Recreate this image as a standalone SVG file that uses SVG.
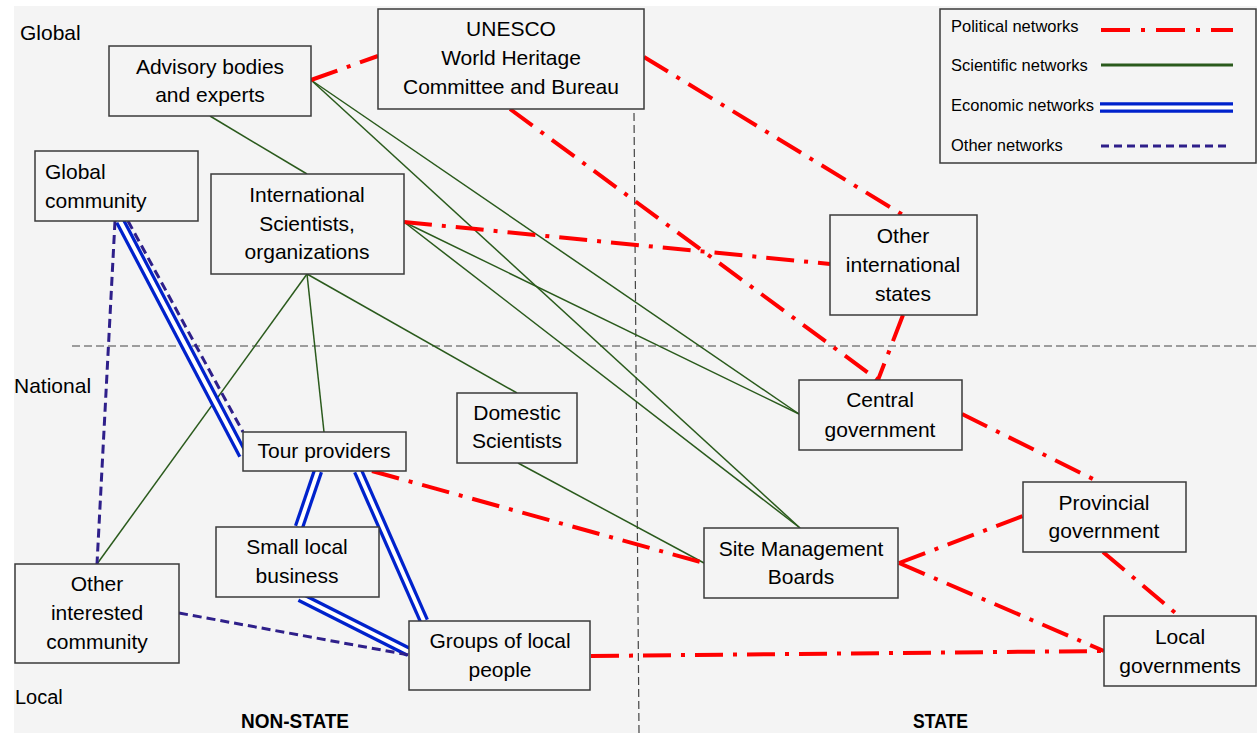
<svg xmlns="http://www.w3.org/2000/svg" width="1257" height="733" viewBox="0 0 1257 733">
<style>
.bg{fill:#f4f4f4}
.box{fill:#f4f4f4;stroke:#3a3a3a;stroke-width:1.5}
.t{font-family:"Liberation Sans",Arial,sans-serif;font-size:21px;fill:#000;text-anchor:middle}
.tl{font-family:"Liberation Sans",Arial,sans-serif;font-size:21px;fill:#000}
.lg{font-family:"Liberation Sans",Arial,sans-serif;font-size:16.5px;fill:#000}
.ax{font-family:"Liberation Sans",Arial,sans-serif;font-size:20px;font-weight:bold;fill:#000}
.pol{stroke:#ff0000;stroke-width:4;stroke-dasharray:28 10 4 10;fill:none}
.sci{stroke:#2a5a1c;stroke-width:1.5;fill:none}
.eco{stroke:#0022cc;stroke-width:10.5;fill:none}
.ecoi{stroke:#ffffff;stroke-width:4;fill:none}
.oth{stroke:#2e1f8a;stroke-width:3;stroke-dasharray:9 5;fill:none}
.grid{stroke:#444;stroke-width:1.2;stroke-dasharray:8 4;fill:none}
</style>
<rect x="14" y="6" width="1243" height="727" class="bg"/>
<g id="grid">
<line class="grid" x1="72" y1="346" x2="1257" y2="346"/>
<line class="grid" x1="634" y1="113" x2="639" y2="733"/>
</g>
<g id="axis-labels">
<text class="tl" x="20" y="40">Global</text>
<text class="tl" x="14" y="393">National</text>
<text class="tl" x="15" y="704" style="font-size:20px">Local</text>
<text class="ax" x="241" y="728" textLength="108" lengthAdjust="spacingAndGlyphs">NON-STATE</text>
<text class="ax" x="913" y="728" textLength="55" lengthAdjust="spacingAndGlyphs">STATE</text>
</g>
<g id="connectors">
<!-- scientific -->
<line class="sci" x1="210" y1="116" x2="307" y2="174"/>
<line class="sci" x1="311" y1="80" x2="799" y2="414"/>
<line class="sci" x1="311" y1="80" x2="800" y2="528"/>
<line class="sci" x1="404" y1="222" x2="799" y2="414"/>
<line class="sci" x1="404" y1="222" x2="800" y2="528"/>
<line class="sci" x1="307" y1="274" x2="324" y2="432"/>
<line class="sci" x1="307" y1="274" x2="97" y2="564"/>
<line class="sci" x1="307" y1="274" x2="517" y2="393"/>
<line class="sci" x1="518" y1="463" x2="704" y2="563"/>
<!-- economic -->
<line class="eco" x1="120" y1="221" x2="243" y2="455"/>
<line class="ecoi" x1="120" y1="221" x2="243" y2="455"/>
<line class="eco" x1="318" y1="471" x2="299" y2="527"/>
<line class="ecoi" x1="318" y1="471" x2="299" y2="527"/>
<line class="eco" x1="358" y1="471" x2="424" y2="621"/>
<line class="ecoi" x1="358" y1="471" x2="424" y2="621"/>
<line class="eco" x1="300" y1="597" x2="409" y2="652"/>
<line class="ecoi" x1="300" y1="597" x2="409" y2="652"/>
<!-- other -->
<line class="oth" x1="128" y1="221" x2="243" y2="432"/>
<line class="oth" x1="115" y1="221" x2="97" y2="564"/>
<line class="oth" x1="179" y1="613" x2="409" y2="655"/>
<!-- political -->
<line class="pol" x1="311" y1="80" x2="378" y2="56"/>
<line class="pol" x1="644" y1="57" x2="903" y2="215"/>
<line class="pol" x1="510" y1="109" x2="878" y2="380"/>
<line class="pol" x1="404" y1="222" x2="830" y2="264"/>
<line class="pol" x1="903" y1="315" x2="878" y2="380"/>
<line class="pol" x1="962" y1="414" x2="1099" y2="482"/>
<line class="pol" x1="372" y1="471" x2="704" y2="563"/>
<line class="pol" x1="899" y1="563" x2="1023" y2="516"/>
<line class="pol" x1="899" y1="563" x2="1104" y2="651"/>
<line class="pol" x1="1103" y1="552" x2="1179" y2="616"/>
<line class="pol" x1="591" y1="656" x2="1104" y2="651"/>
</g>
<g id="n-unesco"><rect class="box" x="378" y="9" width="266" height="100"/>
<text class="t" x="511" y="36">UNESCO</text><text class="t" x="511" y="65">World Heritage</text><text class="t" x="511" y="94">Committee and Bureau</text></g>
<g id="n-advisory"><rect class="box" x="109" y="46" width="202" height="70"/>
<text class="t" x="210" y="74">Advisory bodies</text><text class="t" x="210" y="102">and experts</text></g>
<g id="n-globalcommunity"><rect class="box" x="35" y="151" width="163" height="70"/>
<text class="tl" x="45" y="179">Global</text><text class="tl" x="45" y="208">community</text></g>
<g id="n-intsci"><rect class="box" x="211" y="174" width="193" height="100"/>
<text class="t" x="307" y="202">International</text><text class="t" x="307" y="231">Scientists,</text><text class="t" x="307" y="259">organizations</text></g>
<g id="n-otherstates"><rect class="box" x="830" y="215" width="147" height="100"/>
<text class="t" x="903" y="243">Other</text><text class="t" x="903" y="272">international</text><text class="t" x="903" y="301">states</text></g>
<g id="n-central"><rect class="box" x="799" y="380" width="163" height="70"/>
<text class="t" x="880" y="407">Central</text><text class="t" x="880" y="437">government</text></g>
<g id="n-domestic"><rect class="box" x="457" y="393" width="120" height="70"/>
<text class="t" x="517" y="420">Domestic</text><text class="t" x="517" y="448">Scientists</text></g>
<g id="n-tour"><rect class="box" x="243" y="432" width="163" height="39"/>
<text class="t" x="324" y="458">Tour providers</text></g>
<g id="n-small"><rect class="box" x="216" y="527" width="163" height="70"/>
<text class="t" x="297" y="554">Small local</text><text class="t" x="297" y="583">business</text></g>
<g id="n-otherinterested"><rect class="box" x="15" y="564" width="164" height="99"/>
<text class="t" x="97" y="591">Other</text><text class="t" x="97" y="620">interested</text><text class="t" x="97" y="649">community</text></g>
<g id="n-site"><rect class="box" x="704" y="528" width="194" height="70"/>
<text class="t" x="801" y="556">Site Management</text><text class="t" x="801" y="584">Boards</text></g>
<g id="n-provincial"><rect class="box" x="1023" y="482" width="163" height="70"/>
<text class="t" x="1104" y="510">Provincial</text><text class="t" x="1104" y="538">government</text></g>
<g id="n-groups"><rect class="box" x="409" y="621" width="181" height="69"/>
<text class="t" x="500" y="648">Groups of local</text><text class="t" x="500" y="677">people</text></g>
<g id="n-localgov"><rect class="box" x="1104" y="616" width="152" height="70"/>
<text class="t" x="1180" y="644">Local</text><text class="t" x="1180" y="673">governments</text></g>
<g id="legend">
<rect class="box" x="940" y="9" width="316" height="154"/>
<text class="lg" x="951" y="32">Political networks</text>
<line class="pol" x1="1101" y1="30" x2="1233" y2="30" style="stroke-dasharray:29 11 4 11"/>
<text class="lg" x="951" y="71">Scientific networks</text>
<line class="sci" x1="1101" y1="65" x2="1233" y2="65" style="stroke-width:3"/>
<text class="lg" x="951" y="111">Economic networks</text>
<line class="eco" x1="1100" y1="107.5" x2="1233" y2="107.5"/>
<line class="ecoi" x1="1100" y1="107.5" x2="1233" y2="107.5"/>
<text class="lg" x="951" y="151">Other networks</text>
<line class="oth" x1="1101" y1="146" x2="1231" y2="146" style="stroke-dasharray:8 5"/>
</g>
</svg>
